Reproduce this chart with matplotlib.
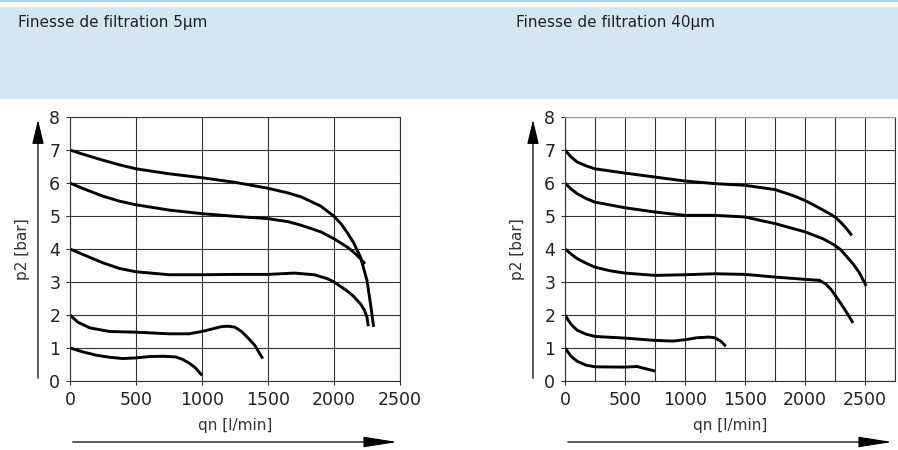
import matplotlib
matplotlib.use("Agg")
import matplotlib.pyplot as plt
from matplotlib.patches import Rectangle, FancyArrowPatch

# ---- data ----
titles = ["Finesse de filtration 5µm", "Finesse de filtration 40µm"]
x_max = [2500, 2750]

# left chart (5 µm): qn [l/min], p2 [bar]
l7_q = [0, 100, 250, 375, 500, 750, 1000, 1250, 1500, 1650, 1750, 1900, 2000, 2050, 2100, 2150, 2200, 2250, 2280, 2300]
l7_p = [7.0, 6.87, 6.69, 6.55, 6.43, 6.28, 6.16, 6.02, 5.84, 5.7, 5.58, 5.3, 4.99, 4.78, 4.5, 4.18, 3.76, 3.05, 2.24, 1.64]
l6_q = [0, 100, 250, 375, 500, 750, 1000, 1250, 1500, 1650, 1750, 1900, 2000, 2100, 2150, 2200, 2235]
l6_p = [6.0, 5.83, 5.6, 5.45, 5.34, 5.18, 5.07, 4.99, 4.92, 4.83, 4.72, 4.52, 4.31, 4.06, 3.9, 3.71, 3.55]
l4_q = [0, 100, 250, 375, 500, 750, 1000, 1250, 1500, 1700, 1850, 1950, 2000, 2100, 2150, 2200, 2230, 2250, 2260]
l4_p = [4.0, 3.83, 3.58, 3.41, 3.31, 3.22, 3.22, 3.23, 3.23, 3.27, 3.22, 3.1, 3.0, 2.73, 2.56, 2.34, 2.15, 1.93, 1.66]
l2_q = [0, 60, 150, 300, 500, 750, 900, 1000, 1100, 1150, 1200, 1250, 1300, 1350, 1400, 1460]
l2_p = [2.0, 1.78, 1.61, 1.5, 1.48, 1.43, 1.43, 1.5, 1.6, 1.65, 1.66, 1.63, 1.5, 1.3, 1.08, 0.68]
l1_q = [0, 100, 200, 300, 400, 500, 600, 700, 800, 850, 900, 950, 1000]
l1_p = [1.0, 0.88, 0.78, 0.72, 0.68, 0.70, 0.74, 0.75, 0.73, 0.66, 0.55, 0.4, 0.17]

# right chart (40 µm)
r7_q = [0, 50, 100, 175, 250, 500, 750, 1000, 1250, 1500, 1750, 1900, 2000, 2100, 2200, 2250, 2300, 2350, 2390]
r7_p = [7.0, 6.79, 6.64, 6.52, 6.43, 6.30, 6.18, 6.06, 5.98, 5.93, 5.80, 5.62, 5.47, 5.28, 5.08, 4.97, 4.8, 4.6, 4.41]
r6_q = [0, 50, 100, 175, 250, 500, 750, 1000, 1250, 1500, 1750, 2000, 2150, 2250, 2300, 2350, 2400, 2450, 2510]
r6_p = [6.0, 5.82, 5.68, 5.53, 5.42, 5.25, 5.12, 5.02, 5.02, 4.97, 4.77, 4.52, 4.31, 4.11, 3.97, 3.76, 3.55, 3.30, 2.88]
r4_q = [0, 50, 100, 175, 250, 375, 500, 750, 1000, 1250, 1500, 1750, 2000, 2120, 2170, 2220, 2300, 2350, 2400]
r4_p = [4.0, 3.85, 3.71, 3.57, 3.45, 3.34, 3.27, 3.20, 3.22, 3.25, 3.23, 3.15, 3.08, 3.05, 2.95, 2.76, 2.34, 2.06, 1.76]
r2_q = [0, 50, 100, 175, 250, 500, 750, 900, 1000, 1100, 1200, 1250, 1300, 1340]
r2_p = [2.0, 1.72, 1.54, 1.42, 1.35, 1.30, 1.23, 1.21, 1.25, 1.31, 1.33, 1.31, 1.2, 1.05]
r1_q = [0, 50, 100, 175, 250, 500, 600, 675, 750]
r1_p = [1.0, 0.75, 0.6, 0.48, 0.43, 0.42, 0.44, 0.37, 0.30]

left_curves = [(l7_q, l7_p), (l6_q, l6_p), (l4_q, l4_p), (l2_q, l2_p), (l1_q, l1_p)]
right_curves = [(r7_q, r7_p), (r6_q, r6_p), (r4_q, r4_p), (r2_q, r2_p), (r1_q, r1_p)]

W, H = 898, 450
fig = plt.figure(figsize=(W / 100, H / 100), dpi=100)

# header band
fig.add_artist(Rectangle((0, 1 - 99 / H), 1, 92 / H, transform=fig.transFigure,
                         facecolor="#d4e6f1", edgecolor="none"))
fig.add_artist(Rectangle((0, 1 - 2 / H), 1, 2 / H, transform=fig.transFigure,
                         facecolor="#a9d1e8", edgecolor="none"))

grid_c = "#333333"


def draw_panel(x0, title, curves, xmax, title_x):
    ax = fig.add_axes([x0 / W, 69 / H, 330 / W, 264 / H])
    for q, p in curves:
        ax.plot(q, p, color="black", lw=2.1, solid_capstyle="butt", solid_joinstyle="round")
    ax.set_xlim(0, xmax)
    ax.set_ylim(0, 8)
    ax.set_xticks(range(0, 2501, 500))
    ax.set_xticks(range(0, xmax + 1, 250 if xmax > 2500 else 500), minor=True)
    ax.set_yticks(range(0, 9))
    ax.grid(True, which="both", color=grid_c, lw=0.8)
    for s in ax.spines.values():
        s.set_color(grid_c)
        s.set_linewidth(0.8)
    if xmax > 2500:
        ax.spines["top"].set_color("#999999")
    ax.tick_params(which="major", length=3, width=0.8, color=grid_c,
                   labelsize=12.5, labelcolor="#222222", pad=4)
    ax.tick_params(which="minor", length=0)
    ax.set_xlabel("qn [l/min]", fontsize=11, color="#333333", labelpad=7)
    ax.set_ylabel("p2 [bar]", fontsize=11, color="#333333")
    ax.yaxis.set_label_coords(-40 / 330, 0.5)

    # axis arrows
    ax_arrow_x = x0 - 32
    fig.add_artist(FancyArrowPatch((ax_arrow_x / W, 69 / H), (ax_arrow_x / W, 333 / H),
                                   transform=fig.transFigure, arrowstyle="-|>,head_length=5,head_width=1.2",
                                   color="black", lw=0.9, mutation_scale=3))
    fig.add_artist(FancyArrowPatch((x0 / W, 8 / H), ((x0 + 330) / W, 8 / H),
                                   transform=fig.transFigure, arrowstyle="-|>,head_length=7,head_width=1.1",
                                   color="black", lw=0.9, mutation_scale=3))
    fig.text(title_x / W, 1 - 22 / H, title, fontsize=11, color="#222222", va="center", ha="left")
    return ax


draw_panel(70, titles[0], left_curves, x_max[0], 18)
draw_panel(565, titles[1], right_curves, x_max[1], 516)

fig.savefig("out.png", dpi=100)
